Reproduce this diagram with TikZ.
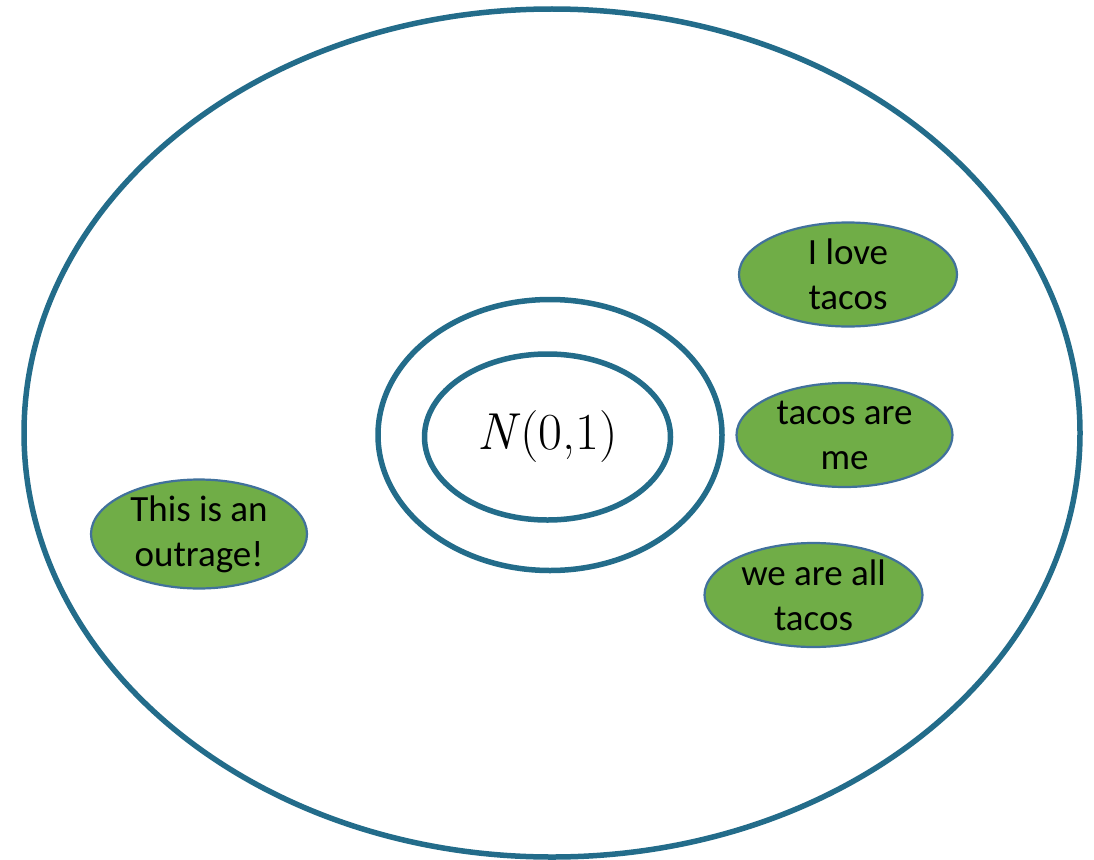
\documentclass[tikz,border=0pt]{standalone}
\usepackage{fontspec}
\setmainfont{Carlito}
\newfontfamily\lmroman{Latin Modern Roman}
\usetikzlibrary{shapes.geometric}
\definecolor{ringblue}{RGB}{35,108,138}
\definecolor{leafgreen}{RGB}{112,173,71}
\definecolor{leafedge}{RGB}{65,113,156}
\tikzset{
  ring/.style={ellipse, draw=ringblue, line width=5.5pt, inner sep=0pt, outer sep=0pt},
  bubble/.style={ellipse, draw=leafedge, fill=leafgreen, line width=2.2pt,
    inner sep=0pt, outer sep=0pt, minimum width=218pt, minimum height=104pt,
    align=center, font=\fontsize{37pt}{45pt}\selectfont}
}
\begin{document}
\begin{tikzpicture}[x=1pt, y=-1pt]
  \useasboundingbox (0,0) rectangle (1094,859);
  \fill[white] (0,0) rectangle (1094,859);
  % nested rings
  \node[ring, minimum width=1056pt, minimum height=848pt] (outer) at (552,433) {};
  \node[ring, minimum width=344pt, minimum height=271pt] (middle) at (550,435) {};
  \node[ring, minimum width=246pt, minimum height=166pt] (inner) at (547.5,437)
    {\lmroman\fontsize{52pt}{56pt}\selectfont\textit{N}(0,1)};
  % green bubbles
  \node[bubble] (love) at (848,274.5) {I love\\tacos};
  \node[bubble, minimum width=216pt, minimum height=104pt] (me) at (844.5,435) {tacos are\\me};
  \node[bubble, minimum width=218pt, minimum height=104pt] (all) at (813.5,595) {we are all\\tacos};
  \node[bubble, minimum width=216pt, minimum height=102pt] (outrage) at (199,534) {This is an\\outrage!};
\end{tikzpicture}
\end{document}
